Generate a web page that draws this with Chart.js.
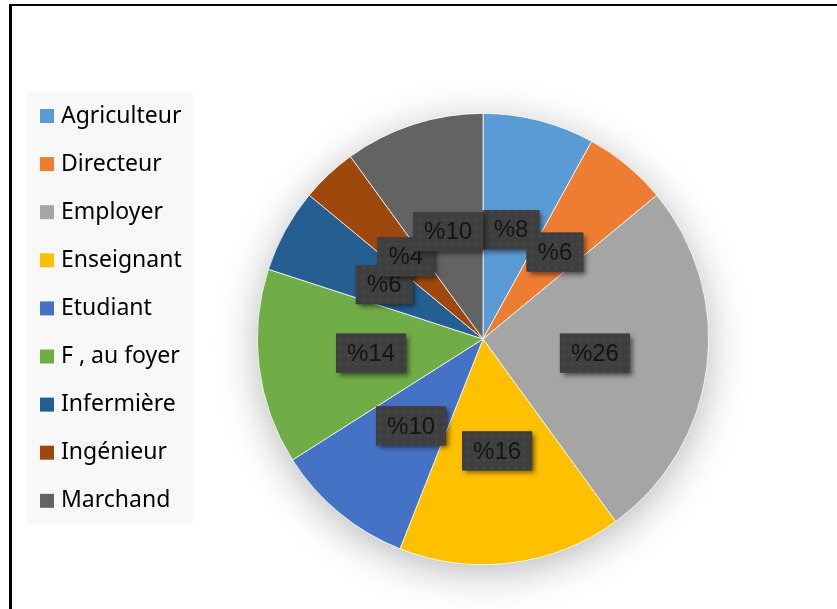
<!DOCTYPE html>
<html>
<head>
<meta charset="utf-8">
<script src="https://cdn.jsdelivr.net/npm/chart.js@4.4.1/dist/chart.umd.min.js"></script>
<style>
  html, body { margin: 0; padding: 0; background: #fff; overflow: hidden; }
  #frame {
    position: absolute; left: 9px; top: 4px; width: 900px; height: 700px;
    border-left: 3px solid #000; border-top: 2px solid #000;
  }
  #wrap { position: absolute; left: 0; top: 0; width: 837px; height: 609px; }
</style>
</head>
<body>
<div id="frame"></div>
<div id="wrap"><canvas id="chart" width="837" height="609"></canvas></div>
<script>
// chart data
const categories = ['Agriculteur', 'Directeur', 'Employer', 'Enseignant', 'Etudiant',
                    'F , au foyer', 'Infermière', 'Ingénieur', 'Marchand'];
const percents   = [8, 6, 26, 16, 10, 14, 6, 4, 10];
const colors     = ['#5B9BD5', '#ED7D31', '#A5A5A5', '#FFC000', '#4472C4',
                    '#70AD47', '#255E91', '#9E480E', '#636363'];

// soft glow under the pie
const pieShadow = {
  id: 'pieShadow',
  beforeDatasetsDraw(chart) {
    const arc = chart.getDatasetMeta(0).data[0];
    if (!arc) return;
    const ctx = chart.ctx;
    ctx.save();
    ctx.shadowColor = 'rgba(0,0,0,0.28)';
    ctx.shadowBlur = 40;
    ctx.shadowOffsetY = 8;
    ctx.fillStyle = '#fff';
    ctx.beginPath();
    ctx.arc(arc.x, arc.y, arc.outerRadius, 0, Math.PI * 2);
    ctx.fill();
    ctx.restore();
  }
};

// dark label boxes "%n" at the middle of each slice
function makePattern(ctx) {
  const c = document.createElement('canvas');
  c.width = 8; c.height = 8;
  const p = c.getContext('2d');
  p.fillStyle = '#3f3f3f';
  p.fillRect(0, 0, 8, 8);
  p.fillStyle = '#4a4a4a';
  p.fillRect(3, 3, 2, 2);
  return ctx.createPattern(c, 'repeat');
}

const sliceLabels = {
  id: 'sliceLabels',
  afterDatasetsDraw(chart) {
    const ctx = chart.ctx;
    const meta = chart.getDatasetMeta(0);
    const pattern = makePattern(ctx);
    ctx.save();
    ctx.font = '24px "Liberation Sans", Arial, sans-serif';
    ctx.textAlign = 'center';
    ctx.textBaseline = 'middle';
    meta.data.forEach(function(arc, i) {
      const pos = arc.tooltipPosition();
      const text = '%' + percents[i];
      const w = ctx.measureText(text).width + 22;
      const h = 39;
      const x = pos.x - w / 2;
      const y = pos.y - h / 2;
      ctx.save();
      ctx.shadowColor = 'rgba(0,0,0,0.55)';
      ctx.shadowBlur = 5;
      ctx.shadowOffsetX = 3;
      ctx.shadowOffsetY = 3;
      ctx.fillStyle = '#404040';
      ctx.fillRect(x, y, w, h);
      ctx.restore();
      ctx.fillStyle = pattern;
      ctx.fillRect(x, y, w, h);
      ctx.fillStyle = '#141414';
      ctx.fillText(text, pos.x, pos.y + 1);
    });
    ctx.restore();
  }
};

// legend panel on the left
const sideLegend = {
  id: 'sideLegend',
  afterDraw(chart) {
    const ctx = chart.ctx;
    const labels = chart.data.labels;
    const fills = chart.data.datasets[0].backgroundColor;
    ctx.save();
    ctx.fillStyle = '#f8f8f8';
    ctx.fillRect(27, 91, 166, 434);
    ctx.font = '23px "Noto Sans", sans-serif';
    ctx.textBaseline = 'middle';
    ctx.textAlign = 'left';
    labels.forEach(function(label, i) {
      const cy = 116 + i * 48.1;
      ctx.fillStyle = fills[i];
      ctx.fillRect(40, cy - 7, 14, 14);
      ctx.fillStyle = '#000';
      ctx.fillText(label, 61, cy);
    });
    ctx.restore();
  }
};

new Chart(document.getElementById('chart'), {
  type: 'pie',
  data: {
    labels: categories,
    datasets: [{
      data: percents,
      backgroundColor: colors,
      borderColor: '#ffffff',
      borderWidth: 0.75
    }]
  },
  options: {
    responsive: false,
    animation: false,
    rotation: 0,
    layout: { padding: { top: 113, bottom: 44, left: 257, right: 128 } },
    plugins: {
      legend: { display: false },
      tooltip: { enabled: false }
    }
  },
  plugins: [pieShadow, sliceLabels, sideLegend]
});
</script>
</body>
</html>
